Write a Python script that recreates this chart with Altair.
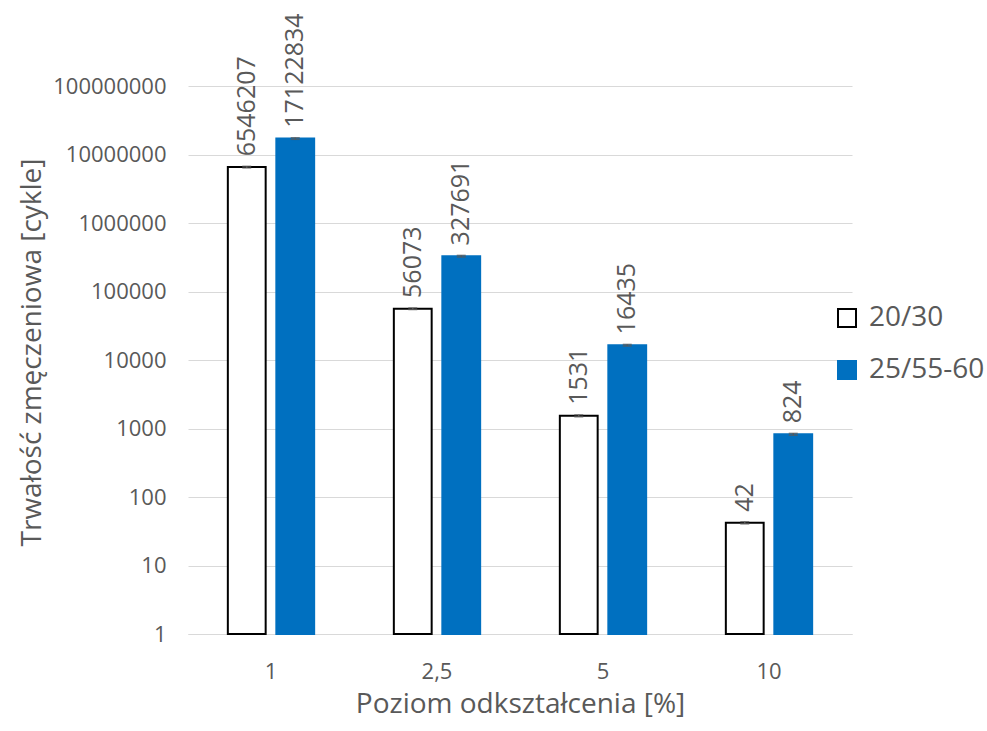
import altair as alt
import pandas as pd

# Fatigue life (cycles) per strain level and binder type
levels = ["1", "2,5", "5", "10"]
series = ["20/30", "25/55-60"]
life_2030 = [6546207, 56073, 1531, 42]
life_2555 = [17122834, 327691, 16435, 824]
err_2030 = [180000, 1500, 50, 1.5]
err_2555 = [450000, 9000, 450, 25]

rows = []
for lv, v, e in zip(levels, life_2030, err_2030):
    rows.append({"level": lv, "series": series[0], "life": v, "lo": v - e, "hi": v + e, "base": 1})
for lv, v, e in zip(levels, life_2555, err_2555):
    rows.append({"level": lv, "series": series[1], "life": v, "lo": v - e, "hi": v + e, "base": 1})
df = pd.DataFrame(rows)

FONT = "Open Sans"
GREY = "#595959"
BLUE = "#0070C0"

x_enc = alt.X("level:N", sort=levels,
              scale=alt.Scale(paddingInner=0.48, paddingOuter=0.24),
              axis=alt.Axis(title="Poziom odkształcenia [%]", labelAngle=0, ticks=False,
                            grid=False, domainColor="#d9d9d9", labelPadding=27, titlePadding=8,
                            labelFontSize=22, titleFontSize=28, labelColor=GREY,
                            titleColor=GREY, labelFont=FONT, titleFont=FONT,
                            titleFontWeight="normal"))
xoff = alt.XOffset("series:N", sort=series, scale=alt.Scale(paddingInner=0.22))
y_scale = alt.Scale(type="log", domain=[1, 100000000])

legend = alt.Legend(title=None, orient="none", legendX=645, legendY=218, padding=0,
                    symbolType="square", symbolSize=324, symbolStrokeWidth=2,
                    labelFontSize=28, labelColor=GREY, labelFont=FONT, rowPadding=24,
                    labelOffset=8)

bars = alt.Chart(df).mark_bar(strokeWidth=2).encode(
    x=x_enc,
    xOffset=xoff,
    y=alt.Y("life:Q", scale=y_scale,
            axis=alt.Axis(title="Trwałość zmęczeniowa [cykle]",
                          values=[1, 10, 100, 1000, 10000, 100000, 1000000, 10000000, 100000000],
                          format="d", ticks=False, domain=False, gridColor="#d9d9d9",
                          labelPadding=22, labelFontSize=22, titleFontSize=28,
                          labelColor=GREY, titleColor=GREY, labelFont=FONT, titleFont=FONT,
                          titleFontWeight="normal", titlePadding=6, titleY=266)),
    y2="base:Q",
    fill=alt.Fill("series:N", sort=series,
                  scale=alt.Scale(domain=series, range=["white", BLUE]), legend=legend),
    stroke=alt.Stroke("series:N", sort=series,
                      scale=alt.Scale(domain=series, range=["black", BLUE]), legend=legend),
)

err_rule = alt.Chart(df).mark_rule(color="#595959", strokeWidth=1.5).encode(
    x=alt.X("level:N", sort=levels), xOffset=xoff,
    y=alt.Y("lo:Q", scale=y_scale), y2="hi:Q")

cap_lo = alt.Chart(df).mark_tick(color="#595959", thickness=1.5, size=9).encode(
    x=alt.X("level:N", sort=levels), xOffset=xoff, y=alt.Y("lo:Q", scale=y_scale))
cap_hi = alt.Chart(df).mark_tick(color="#595959", thickness=1.5, size=9).encode(
    x=alt.X("level:N", sort=levels), xOffset=xoff, y=alt.Y("hi:Q", scale=y_scale))

labels = alt.Chart(df).mark_text(angle=270, align="left", baseline="middle", dx=10,
                                 fontSize=25, font=FONT, color=GREY).encode(
    x=alt.X("level:N", sort=levels), xOffset=xoff,
    y=alt.Y("hi:Q", scale=y_scale),
    text=alt.Text("life:Q", format="d"))

chart = alt.layer(bars, err_rule, cap_lo, cap_hi, labels).properties(
    width=664, height=548,
    autosize=alt.AutoSizeParams(type="none"),
    padding={"left": 188, "top": 86, "right": 135, "bottom": 97},
).configure(background="white").configure_view(stroke="transparent", strokeWidth=0)

chart.save("out.html", embed_options={"renderer": "svg", "actions": False})
